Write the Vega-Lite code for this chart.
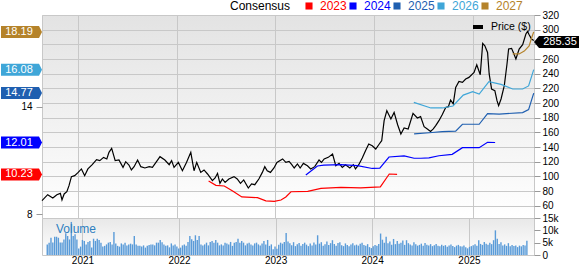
{
  "$schema": "https://vega.github.io/schema/vega-lite/v6.json",
  "padding": 0,
  "background": "white",
  "spacing": 0,
  "bounds": "flush",
  "config": {
    "font": "Liberation Sans",
    "view": {"stroke": "#c8c8c8", "strokeWidth": 1},
    "axis": {"labelFont": "Liberation Sans", "labelFontSize": 10, "labelColor": "#000000", "tickColor": "#999999", "gridColor": "#c8c8c8", "domain": false, "title": null, "labelOverlap": false, "labelSeparation": 0},
    "legend": {"labelFont": "Liberation Sans", "titleFont": "Liberation Sans"}
  },
  "datasets": {
    "price": [
      {"date":"2020-08-20","price":66.8},{"date":"2020-09-10","price":75.0},{"date":"2020-09-29","price":70.5},{"date":"2020-10-14","price":75.0},{"date":"2020-10-27","price":76.8},{"date":"2020-11-02","price":67.8},{"date":"2020-11-10","price":76.0},{"date":"2020-11-20","price":79.1},{"date":"2020-11-28","price":87.3},{"date":"2020-12-07","price":99.6},{"date":"2020-12-19","price":100.9},
      {"date":"2021-01-01","price":105.4},{"date":"2021-01-13","price":110.1},{"date":"2021-01-25","price":100.9},{"date":"2021-02-06","price":110.1},{"date":"2021-02-22","price":115.9},{"date":"2021-03-10","price":122.7},{"date":"2021-03-22","price":121.4},{"date":"2021-04-05","price":125.9},{"date":"2021-04-17","price":123.7},{"date":"2021-04-25","price":132.7},{"date":"2021-05-05","price":138.1},{"date":"2021-05-18","price":121.4},{"date":"2021-06-01","price":122.3},{"date":"2021-06-16","price":112.2},{"date":"2021-06-26","price":120.0},{"date":"2021-07-08","price":115.5},{"date":"2021-07-17","price":108.7},{"date":"2021-07-27","price":113.2},{"date":"2021-08-09","price":122.3},{"date":"2021-08-21","price":113.2},{"date":"2021-09-05","price":111.4},{"date":"2021-09-21","price":113.2},{"date":"2021-10-03","price":112.2},{"date":"2021-10-18","price":120.0},{"date":"2021-10-31","price":126.8},{"date":"2021-11-18","price":122.3},{"date":"2021-12-04","price":115.9},{"date":"2021-12-13","price":121.4},{"date":"2021-12-22","price":112.2},
      {"date":"2022-01-07","price":119.0},{"date":"2022-01-22","price":107.7},{"date":"2022-02-06","price":119.0},{"date":"2022-02-22","price":132.7},{"date":"2022-03-06","price":107.7},{"date":"2022-03-16","price":119.0},{"date":"2022-03-31","price":105.4},{"date":"2022-04-12","price":108.7},{"date":"2022-04-25","price":103.2},{"date":"2022-05-13","price":94.1},{"date":"2022-05-23","price":97.8},{"date":"2022-06-01","price":104.1},{"date":"2022-06-10","price":90.4},{"date":"2022-06-19","price":96.4},{"date":"2022-06-29","price":91.8},{"date":"2022-07-13","price":96.4},{"date":"2022-08-01","price":99.6},{"date":"2022-08-13","price":96.4},{"date":"2022-08-25","price":90.4},{"date":"2022-09-06","price":95.1},{"date":"2022-09-23","price":84.1},{"date":"2022-10-05","price":89.6},{"date":"2022-10-17","price":88.6},{"date":"2022-11-01","price":96.4},{"date":"2022-11-14","price":105.4},{"date":"2022-11-23","price":113.2},{"date":"2022-12-02","price":107.7},{"date":"2022-12-14","price":105.4},{"date":"2022-12-27","price":111.4},
      {"date":"2023-01-07","price":119.0},{"date":"2023-01-28","price":123.7},{"date":"2023-02-09","price":119.0},{"date":"2023-02-21","price":120.4},{"date":"2023-03-03","price":115.9},{"date":"2023-03-12","price":111.4},{"date":"2023-03-24","price":116.9},{"date":"2023-04-03","price":111.4},{"date":"2023-04-15","price":117.7},{"date":"2023-04-30","price":114.5},{"date":"2023-05-12","price":110.1},{"date":"2023-05-27","price":113.2},{"date":"2023-06-12","price":122.3},{"date":"2023-06-21","price":119.0},{"date":"2023-07-01","price":123.7},{"date":"2023-07-16","price":125.9},{"date":"2023-08-01","price":130.5},{"date":"2023-08-13","price":114.5},{"date":"2023-08-25","price":117.7},{"date":"2023-09-06","price":112.2},{"date":"2023-09-18","price":115.9},{"date":"2023-10-04","price":111.4},{"date":"2023-10-17","price":115.9},{"date":"2023-10-25","price":110.1},{"date":"2023-11-06","price":115.9},{"date":"2023-11-19","price":125.0},{"date":"2023-12-01","price":135.0},{"date":"2023-12-13","price":144.1},{"date":"2023-12-26","price":141.8},
      {"date":"2024-01-08","price":137.3},{"date":"2024-01-21","price":144.1},{"date":"2024-01-30","price":148.6},{"date":"2024-02-08","price":175.9},{"date":"2024-02-18","price":189.5},{"date":"2024-03-04","price":178.2},{"date":"2024-03-16","price":187.2},{"date":"2024-03-29","price":170.4},{"date":"2024-04-10","price":157.8},{"date":"2024-04-22","price":165.9},{"date":"2024-05-07","price":164.6},{"date":"2024-05-25","price":185.8},{"date":"2024-06-10","price":179.6},{"date":"2024-06-22","price":181.4},{"date":"2024-07-05","price":167.7},{"date":"2024-07-17","price":164.6},{"date":"2024-07-29","price":161.3},{"date":"2024-08-08","price":164.6},{"date":"2024-08-17","price":169.1},{"date":"2024-08-29","price":175.9},{"date":"2024-09-10","price":184.1},{"date":"2024-09-23","price":194.0},{"date":"2024-10-03","price":195.0},{"date":"2024-10-11","price":204.1},{"date":"2024-10-21","price":198.7},{"date":"2024-10-30","price":221.3},{"date":"2024-11-11","price":229.5},{"date":"2024-11-24","price":228.1},{"date":"2024-12-06","price":232.7},{"date":"2024-12-18","price":234.9},
      {"date":"2025-01-06","price":241.7},{"date":"2025-01-16","price":252.2},{"date":"2025-01-29","price":238.6},{"date":"2025-02-07","price":281.3},{"date":"2025-02-15","price":278.1},{"date":"2025-02-25","price":269.0},{"date":"2025-03-03","price":239.6},{"date":"2025-03-12","price":219.1},{"date":"2025-03-24","price":216.8},{"date":"2025-04-01","price":203.2},{"date":"2025-04-07","price":196.3},{"date":"2025-04-16","price":205.5},{"date":"2025-04-28","price":223.6},{"date":"2025-05-08","price":253.2},{"date":"2025-05-14","price":273.6},{"date":"2025-05-25","price":274.5},{"date":"2025-06-02","price":267.6},{"date":"2025-06-10","price":260.0},{"date":"2025-06-22","price":273.6},{"date":"2025-07-05","price":279.5},{"date":"2025-07-17","price":294.1},{"date":"2025-07-23","price":297.6},{"date":"2025-07-29","price":293.1},{"date":"2025-08-07","price":287.3},{"date":"2025-08-15","price":285.35}
    ],
    "last": [{"price": 285.35}],
    "eps": [
      {"year":"2023","date":"2022-04-29","eps":9.86},{"year":"2023","date":"2022-05-26","eps":9.62},{"year":"2023","date":"2022-06-26","eps":9.58},{"year":"2023","date":"2022-07-27","eps":9.30},{"year":"2023","date":"2022-08-30","eps":8.97},{"year":"2023","date":"2022-10-27","eps":8.93},{"year":"2023","date":"2022-11-27","eps":8.75},{"year":"2023","date":"2022-12-28","eps":8.72},{"year":"2023","date":"2023-01-22","eps":8.80},{"year":"2023","date":"2023-02-09","eps":8.97},{"year":"2023","date":"2023-02-28","eps":9.26},{"year":"2023","date":"2023-05-01","eps":9.28},{"year":"2023","date":"2023-06-19","eps":9.45},{"year":"2023","date":"2023-09-01","eps":9.50},{"year":"2023","date":"2023-11-13","eps":9.48},{"year":"2023","date":"2024-01-25","eps":9.53},{"year":"2023","date":"2024-02-27","eps":10.25},{"year":"2023","date":"2024-03-27","eps":10.23},
      {"year":"2024","date":"2023-04-24","eps":10.20},{"year":"2024","date":"2023-06-06","eps":10.70},{"year":"2024","date":"2023-06-30","eps":10.75},{"year":"2024","date":"2023-09-01","eps":10.77},{"year":"2024","date":"2023-11-01","eps":10.72},{"year":"2024","date":"2023-12-26","eps":10.56},{"year":"2024","date":"2024-01-23","eps":10.58},{"year":"2024","date":"2024-02-26","eps":11.20},{"year":"2024","date":"2024-04-22","eps":11.26},{"year":"2024","date":"2024-05-29","eps":11.13},{"year":"2024","date":"2024-06-23","eps":11.13},{"year":"2024","date":"2024-07-23","eps":11.15},{"year":"2024","date":"2024-08-29","eps":11.27},{"year":"2024","date":"2024-10-17","eps":11.35},{"year":"2024","date":"2024-11-24","eps":11.72},{"year":"2024","date":"2025-01-25","eps":11.72},{"year":"2024","date":"2025-02-25","eps":12.02},{"year":"2024","date":"2025-03-25","eps":12.01},
      {"year":"2025","date":"2024-05-29","eps":12.49},{"year":"2025","date":"2024-08-04","eps":12.57},{"year":"2025","date":"2024-09-10","eps":12.62},{"year":"2025","date":"2024-10-30","eps":12.65},{"year":"2025","date":"2024-11-24","eps":13.03},{"year":"2025","date":"2025-01-25","eps":13.03},{"year":"2025","date":"2025-02-25","eps":13.62},{"year":"2025","date":"2025-04-09","eps":13.60},{"year":"2025","date":"2025-07-05","eps":13.68},{"year":"2025","date":"2025-07-27","eps":13.85},{"year":"2025","date":"2025-08-15","eps":14.77},
      {"year":"2026","date":"2024-05-28","eps":14.25},{"year":"2026","date":"2024-07-30","eps":13.94},{"year":"2026","date":"2024-09-11","eps":13.94},{"year":"2026","date":"2024-10-20","eps":14.05},{"year":"2026","date":"2024-11-27","eps":14.66},{"year":"2026","date":"2025-01-01","eps":14.85},{"year":"2026","date":"2025-01-25","eps":14.72},{"year":"2026","date":"2025-03-02","eps":15.41},{"year":"2026","date":"2025-04-16","eps":15.26},{"year":"2026","date":"2025-05-29","eps":15.00},{"year":"2026","date":"2025-07-05","eps":15.00},{"year":"2026","date":"2025-07-27","eps":15.17},{"year":"2026","date":"2025-08-15","eps":16.08},
      {"year":"2027","date":"2025-05-29","eps":16.96},{"year":"2027","date":"2025-06-22","eps":16.96},{"year":"2027","date":"2025-07-11","eps":17.12},{"year":"2027","date":"2025-07-29","eps":17.40},{"year":"2027","date":"2025-08-07","eps":17.85},{"year":"2027","date":"2025-08-15","eps":18.19}
    ],
    "flags": [
      {"year":"2023","eps":10.23},{"year":"2024","eps":12.01},{"year":"2025","eps":14.77},{"year":"2026","eps":16.08},{"year":"2027","eps":18.19}
    ],
    "volume": [
      {"date":"2020-08-21","vol":4.3},{"date":"2020-08-28","vol":5.0},{"date":"2020-09-04","vol":7.0},{"date":"2020-09-11","vol":5.1},{"date":"2020-09-18","vol":7.4},{"date":"2020-09-25","vol":7.4},{"date":"2020-10-02","vol":7.0},{"date":"2020-10-09","vol":5.1},{"date":"2020-10-16","vol":5.1},{"date":"2020-10-23","vol":6.3},{"date":"2020-10-30","vol":8.8},{"date":"2020-11-06","vol":7.7},{"date":"2020-11-13","vol":6.3},{"date":"2020-11-20","vol":13.4},{"date":"2020-11-27","vol":7.7},{"date":"2020-12-04","vol":8.4},{"date":"2020-12-11","vol":6.3},{"date":"2020-12-18","vol":2.6},{"date":"2020-12-25","vol":3.4},
      {"date":"2021-01-01","vol":6.1},{"date":"2021-01-08","vol":5.7},{"date":"2021-01-15","vol":4.3},{"date":"2021-01-22","vol":5.3},{"date":"2021-01-29","vol":5.7},{"date":"2021-02-05","vol":3.0},{"date":"2021-02-12","vol":6.6},{"date":"2021-02-19","vol":5.7},{"date":"2021-02-26","vol":6.6},{"date":"2021-03-05","vol":6.1},{"date":"2021-03-12","vol":5.0},{"date":"2021-03-19","vol":3.4},{"date":"2021-03-26","vol":3.7},{"date":"2021-04-02","vol":4.3},{"date":"2021-04-09","vol":5.0},{"date":"2021-04-16","vol":5.3},{"date":"2021-04-23","vol":4.3},{"date":"2021-04-30","vol":9.3},{"date":"2021-05-07","vol":4.7},{"date":"2021-05-14","vol":3.7},{"date":"2021-05-21","vol":3.4},{"date":"2021-05-28","vol":4.7},{"date":"2021-06-04","vol":4.3},{"date":"2021-06-11","vol":5.0},{"date":"2021-06-18","vol":3.9},{"date":"2021-06-25","vol":4.3},{"date":"2021-07-02","vol":4.6},{"date":"2021-07-09","vol":4.3},{"date":"2021-07-16","vol":7.7},{"date":"2021-07-23","vol":4.3},{"date":"2021-07-30","vol":3.7},{"date":"2021-08-06","vol":3.8},{"date":"2021-08-13","vol":3.4},{"date":"2021-08-20","vol":3.9},{"date":"2021-08-27","vol":3.0},{"date":"2021-09-03","vol":3.7},{"date":"2021-09-10","vol":4.1},{"date":"2021-09-17","vol":4.3},{"date":"2021-09-24","vol":4.3},{"date":"2021-10-01","vol":3.9},{"date":"2021-10-08","vol":5.0},{"date":"2021-10-15","vol":5.0},{"date":"2021-10-22","vol":6.1},{"date":"2021-10-29","vol":5.2},{"date":"2021-11-05","vol":4.3},{"date":"2021-11-12","vol":3.7},{"date":"2021-11-19","vol":3.9},{"date":"2021-11-26","vol":3.1},{"date":"2021-12-03","vol":4.7},{"date":"2021-12-10","vol":3.9},{"date":"2021-12-17","vol":4.3},{"date":"2021-12-24","vol":3.4},{"date":"2021-12-31","vol":2.6},
      {"date":"2022-01-07","vol":3.0},{"date":"2022-01-14","vol":3.9},{"date":"2022-01-21","vol":4.3},{"date":"2022-01-28","vol":3.7},{"date":"2022-02-04","vol":5.3},{"date":"2022-02-11","vol":7.7},{"date":"2022-02-18","vol":6.4},{"date":"2022-02-25","vol":5.7},{"date":"2022-03-04","vol":8.0},{"date":"2022-03-11","vol":6.1},{"date":"2022-03-18","vol":7.7},{"date":"2022-03-25","vol":4.3},{"date":"2022-04-01","vol":3.9},{"date":"2022-04-08","vol":4.3},{"date":"2022-04-15","vol":5.0},{"date":"2022-04-22","vol":3.9},{"date":"2022-04-29","vol":5.3},{"date":"2022-05-06","vol":5.7},{"date":"2022-05-13","vol":5.0},{"date":"2022-05-20","vol":6.1},{"date":"2022-05-27","vol":5.0},{"date":"2022-06-03","vol":3.9},{"date":"2022-06-10","vol":4.3},{"date":"2022-06-17","vol":3.9},{"date":"2022-06-24","vol":5.0},{"date":"2022-07-01","vol":4.7},{"date":"2022-07-08","vol":4.3},{"date":"2022-07-15","vol":5.3},{"date":"2022-07-22","vol":3.7},{"date":"2022-07-29","vol":5.0},{"date":"2022-08-05","vol":5.3},{"date":"2022-08-12","vol":6.6},{"date":"2022-08-19","vol":5.0},{"date":"2022-08-26","vol":5.7},{"date":"2022-09-02","vol":5.0},{"date":"2022-09-09","vol":3.9},{"date":"2022-09-16","vol":4.7},{"date":"2022-09-23","vol":5.0},{"date":"2022-09-30","vol":4.3},{"date":"2022-10-07","vol":3.9},{"date":"2022-10-14","vol":4.7},{"date":"2022-10-21","vol":5.0},{"date":"2022-10-28","vol":4.3},{"date":"2022-11-04","vol":3.9},{"date":"2022-11-11","vol":4.7},{"date":"2022-11-18","vol":5.7},{"date":"2022-11-25","vol":4.3},{"date":"2022-12-02","vol":6.1},{"date":"2022-12-09","vol":3.7},{"date":"2022-12-16","vol":4.3},{"date":"2022-12-23","vol":2.3},{"date":"2022-12-30","vol":3.4},
      {"date":"2023-01-06","vol":2.5},{"date":"2023-01-13","vol":4.2},{"date":"2023-01-20","vol":5.0},{"date":"2023-01-27","vol":4.6},{"date":"2023-02-03","vol":5.3},{"date":"2023-02-10","vol":8.9},{"date":"2023-02-17","vol":5.5},{"date":"2023-02-24","vol":4.8},{"date":"2023-03-03","vol":4.0},{"date":"2023-03-10","vol":5.2},{"date":"2023-03-17","vol":3.6},{"date":"2023-03-24","vol":4.4},{"date":"2023-03-31","vol":4.9},{"date":"2023-04-07","vol":3.8},{"date":"2023-04-14","vol":4.5},{"date":"2023-04-21","vol":5.0},{"date":"2023-04-28","vol":4.2},{"date":"2023-05-05","vol":3.6},{"date":"2023-05-12","vol":4.7},{"date":"2023-05-19","vol":3.9},{"date":"2023-05-26","vol":5.1},{"date":"2023-06-02","vol":4.3},{"date":"2023-06-09","vol":8.0},{"date":"2023-06-16","vol":4.6},{"date":"2023-06-23","vol":5.2},{"date":"2023-06-30","vol":3.8},{"date":"2023-07-07","vol":4.4},{"date":"2023-07-14","vol":5.5},{"date":"2023-07-21","vol":4.1},{"date":"2023-07-28","vol":4.8},{"date":"2023-08-04","vol":6.0},{"date":"2023-08-11","vol":4.5},{"date":"2023-08-18","vol":3.7},{"date":"2023-08-25","vol":4.9},{"date":"2023-09-01","vol":5.2},{"date":"2023-09-08","vol":4.0},{"date":"2023-09-15","vol":3.6},{"date":"2023-09-22","vol":4.7},{"date":"2023-09-29","vol":4.1},{"date":"2023-10-06","vol":3.5},{"date":"2023-10-13","vol":4.3},{"date":"2023-10-20","vol":4.8},{"date":"2023-10-27","vol":3.9},{"date":"2023-11-03","vol":4.2},{"date":"2023-11-10","vol":3.8},{"date":"2023-11-17","vol":4.6},{"date":"2023-11-24","vol":5.0},{"date":"2023-12-01","vol":4.1},{"date":"2023-12-08","vol":3.7},{"date":"2023-12-15","vol":4.4},{"date":"2023-12-22","vol":3.2},{"date":"2023-12-29","vol":2.8},
      {"date":"2024-01-05","vol":3.5},{"date":"2024-01-12","vol":4.1},{"date":"2024-01-19","vol":3.8},{"date":"2024-01-26","vol":4.5},{"date":"2024-02-02","vol":8.7},{"date":"2024-02-09","vol":6.2},{"date":"2024-02-16","vol":5.0},{"date":"2024-02-23","vol":7.4},{"date":"2024-03-01","vol":4.8},{"date":"2024-03-08","vol":5.5},{"date":"2024-03-15","vol":4.2},{"date":"2024-03-22","vol":6.5},{"date":"2024-03-29","vol":4.4},{"date":"2024-04-05","vol":5.7},{"date":"2024-04-12","vol":4.6},{"date":"2024-04-19","vol":5.0},{"date":"2024-04-26","vol":5.9},{"date":"2024-05-03","vol":4.1},{"date":"2024-05-10","vol":6.0},{"date":"2024-05-17","vol":4.8},{"date":"2024-05-24","vol":4.3},{"date":"2024-05-31","vol":3.9},{"date":"2024-06-07","vol":5.2},{"date":"2024-06-14","vol":4.4},{"date":"2024-06-21","vol":3.8},{"date":"2024-06-28","vol":4.1},{"date":"2024-07-05","vol":4.6},{"date":"2024-07-12","vol":3.7},{"date":"2024-07-19","vol":4.9},{"date":"2024-07-26","vol":4.2},{"date":"2024-08-02","vol":3.9},{"date":"2024-08-09","vol":4.4},{"date":"2024-08-16","vol":3.6},{"date":"2024-08-23","vol":4.0},{"date":"2024-08-30","vol":4.5},{"date":"2024-09-06","vol":3.8},{"date":"2024-09-13","vol":3.5},{"date":"2024-09-20","vol":4.2},{"date":"2024-09-27","vol":3.7},{"date":"2024-10-04","vol":4.0},{"date":"2024-10-11","vol":3.3},{"date":"2024-10-18","vol":3.9},{"date":"2024-10-25","vol":4.3},{"date":"2024-11-01","vol":3.6},{"date":"2024-11-08","vol":3.2},{"date":"2024-11-15","vol":3.8},{"date":"2024-11-22","vol":4.1},{"date":"2024-11-29","vol":3.5},{"date":"2024-12-06","vol":3.4},{"date":"2024-12-13","vol":3.9},{"date":"2024-12-20","vol":3.1},{"date":"2024-12-27","vol":2.7},
      {"date":"2025-01-03","vol":3.3},{"date":"2025-01-10","vol":3.6},{"date":"2025-01-17","vol":4.0},{"date":"2025-01-24","vol":4.4},{"date":"2025-01-31","vol":3.8},{"date":"2025-02-07","vol":6.0},{"date":"2025-02-14","vol":4.5},{"date":"2025-02-21","vol":4.1},{"date":"2025-02-28","vol":5.3},{"date":"2025-03-07","vol":4.6},{"date":"2025-03-14","vol":4.2},{"date":"2025-03-21","vol":5.0},{"date":"2025-03-28","vol":4.4},{"date":"2025-04-04","vol":6.0},{"date":"2025-04-11","vol":10.0},{"date":"2025-04-18","vol":6.6},{"date":"2025-04-25","vol":4.5},{"date":"2025-05-02","vol":5.2},{"date":"2025-05-09","vol":3.9},{"date":"2025-05-16","vol":4.3},{"date":"2025-05-23","vol":3.7},{"date":"2025-05-30","vol":4.8},{"date":"2025-06-06","vol":3.5},{"date":"2025-06-13","vol":4.1},{"date":"2025-06-20","vol":3.6},{"date":"2025-06-27","vol":3.9},{"date":"2025-07-04","vol":3.2},{"date":"2025-07-11","vol":3.8},{"date":"2025-07-18","vol":3.5},{"date":"2025-07-25","vol":4.1},{"date":"2025-08-01","vol":3.9},{"date":"2025-08-08","vol":5.8}
    ]
  },
  "vconcat": [
    {
      "width": 492,
      "height": 203,
      "view": {"fill": {"gradient": "linear", "x1": 0, "y1": 0, "x2": 0, "y2": 1, "stops": [{"offset": 0, "color": "#e3e3e3"}, {"offset": 1, "color": "#ffffff"}]}},
      "layer": [
        {
          "layer": [
            {
              "data": {"name": "price"},
              "mark": {"type": "line", "strokeWidth": 1.2},
              "encoding": {
                "x": {"field": "date", "type": "temporal", "scale": {"domain": [{"year": 2020, "month": 8, "date": 20}, {"year": 2025, "month": 8, "date": 16}]}, "axis": {"labels": false, "ticks": false, "grid": true, "maxExtent": 0, "minExtent": 0, "tickCount": {"interval": "year", "step": 1}}},
                "y": {"field": "price", "type": "quantitative", "scale": {"domain": [43.2, 320], "nice": false, "zero": false}, "axis": {"orient": "right", "tickCount": 14, "labelOverlap": false, "labelSeparation": 0, "labelExpr": "datum.value == 280 ? '' : datum.label", "grid": true, "tickSize": 6, "labelPadding": 2}},
                "stroke": {"datum": "Price ($)", "type": "nominal", "scale": {"range": ["#000000"]}, "legend": {"orient": "none", "legendX": 429, "legendY": 5, "title": null, "padding": 0, "symbolType": "stroke", "symbolStrokeWidth": 4, "symbolSize": 100, "labelFontSize": 10.5, "labelColor": "#000000", "labelOffset": 6}}
              }
            },
            {
              "data": {"name": "last"},
              "mark": {"type": "point", "shape": "M0,1.5L5,-4.5L46,-4.5L46,7.5L5,7.5Z", "size": 4, "filled": true, "color": "#000000", "opacity": 1},
              "encoding": {
                "x": {"datum": {"year": 2025, "month": 8, "date": 16}, "type": "temporal"},
                "y": {"field": "price", "type": "quantitative"}
              }
            },
            {
              "data": {"name": "last"},
              "mark": {"type": "text", "fill": "#ffffff", "dx": 26, "dy": 1.5, "fontSize": 11, "align": "center", "baseline": "middle"},
              "encoding": {
                "x": {"datum": {"year": 2025, "month": 8, "date": 16}, "type": "temporal"},
                "y": {"field": "price", "type": "quantitative"},
                "text": {"field": "price", "type": "quantitative", "format": ".2f"}
              }
            }
          ]
        },
        {
          "layer": [
            {
              "data": {"name": "eps"},
              "mark": {"type": "line", "strokeWidth": 1.2},
              "encoding": {
                "x": {"field": "date", "type": "temporal"},
                "y": {"field": "eps", "type": "quantitative", "scale": {"domain": [7.793, 19.134], "nice": false, "zero": false}, "axis": {"orient": "left", "values": [8, 14], "grid": false, "tickSize": 6, "labelPadding": 4}},
                "color": {
                  "field": "year", "type": "nominal",
                  "scale": {"domain": ["2023", "2024", "2025", "2026", "2027"], "range": ["#ff0000", "#0000ff", "#1f5fb0", "#3fa6d8", "#b5832a"]},
                  "legend": {
                    "orient": "none", "legendX": 188, "legendY": -15, "direction": "horizontal",
                    "title": "Consensus", "titleOrient": "left", "titleFontSize": 12, "titleFontWeight": "normal", "titleColor": "#000000", "titlePadding": 12,
                    "labelFontSize": 12, "labelOffset": 5, "columnPadding": -2, "padding": 0,
                    "symbolType": "square", "symbolSize": 50, "symbolStrokeWidth": 0,
                    "encode": {
                      "symbols": {"update": {"fill": {"scale": "color", "field": "value"}, "stroke": {"value": "transparent"}, "opacity": {"value": 1}}},
                      "labels": {"update": {"fill": {"scale": "color", "field": "value"}}}
                    }
                  }
                }
              }
            },
            {
              "data": {"name": "flags"},
              "mark": {"type": "point", "shape": "M0,0L-3,-6L-41,-6L-41,6L-3,6Z", "size": 4, "filled": true, "opacity": 1},
              "encoding": {
                "x": {"datum": {"year": 2020, "month": 8, "date": 20}, "type": "temporal"},
                "y": {"field": "eps", "type": "quantitative"},
                "color": {"field": "year", "type": "nominal"}
              }
            },
            {
              "data": {"name": "flags"},
              "mark": {"type": "text", "fill": "#ffffff", "dx": -23, "fontSize": 11, "align": "center", "baseline": "middle"},
              "encoding": {
                "x": {"datum": {"year": 2020, "month": 8, "date": 20}, "type": "temporal"},
                "y": {"field": "eps", "type": "quantitative"},
                "text": {"field": "eps", "type": "quantitative", "format": ".2f"}
              }
            }
          ]
        }
      ],
      "resolve": {"scale": {"y": "independent"}}
    },
    {
      "width": 492,
      "height": 37,
      "view": {"fill": {"gradient": "linear", "x1": 0, "y1": 0, "x2": 0, "y2": 1, "stops": [{"offset": 0, "color": "#e8e8e8"}, {"offset": 1, "color": "#ffffff"}]}},
      "layer": [
        {
          "data": {"name": "volume"},
          "mark": {"type": "bar", "width": 1.4, "color": "#5a9bd8"},
          "encoding": {
            "x": {"field": "date", "type": "temporal", "scale": {"domain": [{"year": 2020, "month": 8, "date": 20}, {"year": 2025, "month": 8, "date": 16}]}, "axis": {"grid": true, "ticks": false, "labelPadding": 0, "labelFlush": false, "format": "%Y", "tickCount": {"interval": "year", "step": 1}}},
            "y": {"field": "vol", "type": "quantitative", "scale": {"domain": [0, 15], "nice": false}, "axis": {"orient": "right", "tickCount": 3, "labelOverlap": false, "labelSeparation": 0, "labelExpr": "datum.value == 0 ? '0' : datum.value + 'k'", "grid": false, "tickSize": 6, "labelPadding": 2}}
          }
        },
        {
          "data": {"values": [{"label": "Volume"}]},
          "mark": {"type": "text", "align": "left", "baseline": "top", "dx": 9, "dy": 6, "fontSize": 12, "color": "#2e7fc0"},
          "encoding": {
            "x": {"datum": {"year": 2020, "month": 8, "date": 20}, "type": "temporal"},
            "y": {"datum": 15, "type": "quantitative"},
            "text": {"field": "label", "type": "nominal"}
          }
        }
      ]
    }
  ]
}
